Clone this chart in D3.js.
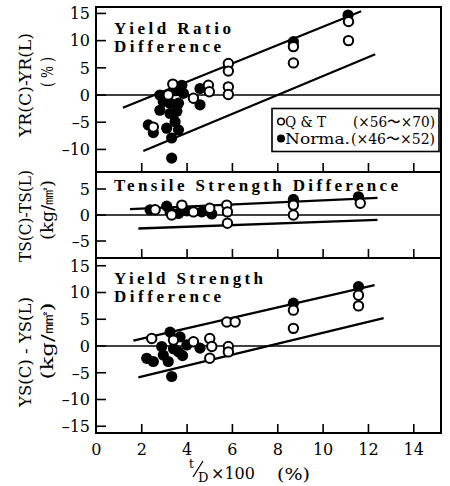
<!DOCTYPE html>
<html>
<head>
<meta charset="utf-8">
<script src="https://cdn.jsdelivr.net/npm/d3@7"></script>
<style>
  body { margin: 0; background: #fff; }
  svg { display: block; }
  text { font-family: "DejaVu Serif", "Liberation Serif", serif; fill: #000; }
</style>
</head>
<body>
<script>
// t/D x 100 (%) ticks
var xTicks = [2, 4, 6, 8, 10, 12, 14];
var xTickLabels = [0, 2, 4, 6, 8, 10, 12, 14];

var yrTicks = [15, 10, 5, 0, -5, -10];
var tsTicks = [5, 0, -5];
var ysTicks = [15, 10, 5, 0, -5, -10, -15];

// yield ratio difference (%)
var yrQT = [[2.51, -5.9], [3.37, 2.0], [3.17, 0.0], [4.28, -0.6], [4.94, 1.8], [4.98, 0.6],
    [5.82, 5.8], [5.82, 4.4], [5.82, 1.5], [5.82, 0.1], [8.69, 8.9], [8.69, 5.9],
    [11.12, 13.5], [11.12, 10.0]];
var yrNorm = [[2.29, -5.5], [2.51, -6.9], [2.8, 0.0], [2.95, -1.2], [2.8, -2.8], [3.25, -1.5],
    [3.25, -3.4], [3.47, -4.9], [3.1, -6.1], [3.62, -6.4], [3.32, -7.9], [3.32, -11.6],
    [3.77, 1.8], [3.84, 0.3], [3.62, -1.5], [3.55, -3.0], [3.5, 0.8], [4.57, 1.2],
    [4.57, -1.8], [8.69, 9.8], [11.1, 14.7]];
var yrBand = [[[1.17, -2.33], [11.68, 15.4]], [[2.07, -10.3], [12.3, 7.5]]];

// tensile strength difference (kg/mm2)
var tsQT = [[2.59, 1.0], [3.32, 0.0], [3.77, 1.9], [4.28, 0.6], [5.0, 1.3], [5.75, 1.9],
    [5.78, 0.6], [5.78, -1.6], [8.69, 1.9], [8.69, 0.0], [11.64, 2.25]];
var tsNorm = [[2.37, 1.0], [3.1, 1.7], [3.25, 0.6], [3.62, 0.3], [3.99, 0.8], [4.65, 0.6],
    [5.09, 0.2], [8.69, 3.0], [11.56, 3.5]];
var tsBand = [[[1.48, 1.13], [12.4, 3.3]], [[1.85, -2.6], [12.4, -0.95]]];

// yield strength difference (kg/mm2)
var ysQT = [[2.44, 1.4], [3.4, 1.1], [4.28, 0.8], [5.0, 1.4], [5.09, -0.1], [5.0, -2.3],
    [5.75, 4.5], [6.12, 4.5], [5.82, -0.1], [5.82, -1.1], [8.69, 6.7], [8.69, 3.3],
    [11.56, 9.5], [11.56, 7.5]];
var ysNorm = [[3.25, 2.6], [3.69, 1.7], [2.88, -0.1], [2.22, -2.3], [2.51, -2.9], [2.95, -1.7],
    [3.17, -2.9], [3.32, -5.7], [3.62, -1.1], [3.99, 0.2], [4.57, -0.4], [3.4, -0.5],
    [3.8, -1.8], [8.69, 8.0], [11.56, 11.1]];
var ysBand = [[[1.63, 1.0], [12.27, 11.4]], [[1.85, -5.85], [12.67, 5.2]]];

var W = 450, H = 486;
var left = 96, right = 441;

var svg = d3.select('body').append('svg')
    .attr('width', W)
    .attr('height', H);

var x = d3.scaleLinear().domain([0, 15.2]).range([left + 0.4, right]);

var panels = [
    {top: 7, bottom: 172, domain: [-14.15, 16.18], ticks: yrTicks, open: yrQT, filled: yrNorm, band: yrBand,
        title: ['Yield Ratio', 'Difference'], titleY: [34, 52], titleW: [117, 107],
        label: 'YR(C)-YR(L)', labelY: 85, labelW: 104, unit: '( % )', unitY: 72, unitW: 30},
    {top: 172, bottom: 258, domain: [-8.27, 8.27], ticks: tsTicks, open: tsQT, filled: tsNorm, band: tsBand,
        title: ['Tensile Strength Difference'], titleY: [191], titleW: [284],
        label: 'TS(C)-TS(L)', labelY: 216, labelW: 92, unit: '(kg/㎟)', unitY: 210, unitW: 60},
    {top: 258, bottom: 433, domain: [-16.26, 16.45], ticks: ysTicks, open: ysQT, filled: ysNorm, band: ysBand,
        title: ['Yield Strength', 'Difference'], titleY: [284, 302], titleW: [149, 107],
        label: 'YS(C) - YS(L)', labelY: 352, labelW: 110, unit: '(kg/㎟)', unitY: 341, unitW: 77}
];

panels.forEach(function(p) {
    var y = d3.scaleLinear().domain(p.domain).range([p.bottom, p.top]);
    var g = svg.append('g');

    // zero line
    g.append('line')
        .attr('x1', left).attr('x2', right)
        .attr('y1', y(0)).attr('y2', y(0))
        .style('stroke', '#000')
        .style('stroke-width', 1.6);

    // y ticks, pointing inward
    p.ticks.forEach(function(t) {
        g.append('line')
            .attr('x1', left).attr('x2', left + 10)
            .attr('y1', y(t)).attr('y2', y(t))
            .style('stroke', '#000')
            .style('stroke-width', 1.6);
        g.append('text')
            .attr('x', 90)
            .attr('y', y(t))
            .attr('dy', '0.36em')
            .attr('text-anchor', 'end')
            .style('font-size', '16px')
            .text(t < 0 ? '\u2013' + Math.abs(t) : t);
    });

    // x ticks along bottom edge
    xTicks.forEach(function(t) {
        g.append('line')
            .attr('x1', x(t)).attr('x2', x(t))
            .attr('y1', p.bottom).attr('y2', p.bottom - 9)
            .style('stroke', '#000')
            .style('stroke-width', 1.6);
    });

    // band lines
    var line = d3.line()
        .x(function(d) { return x(d[0]); })
        .y(function(d) { return y(d[1]); });
    p.band.forEach(function(b) {
        g.append('path')
            .attr('d', line(b))
            .style('fill', 'none')
            .style('stroke', '#000')
            .style('stroke-width', 2.3);
    });

    // points: Norma. first, Q&T on top
    g.selectAll('.norm')
        .data(p.filled)
        .enter().append('circle')
        .attr('cx', function(d) { return x(d[0]); })
        .attr('cy', function(d) { return y(d[1]); })
        .attr('r', 5.6)
        .style('fill', '#000');
    g.selectAll('.qt')
        .data(p.open)
        .enter().append('circle')
        .attr('cx', function(d) { return x(d[0]); })
        .attr('cy', function(d) { return y(d[1]); })
        .attr('r', 4.7)
        .style('fill', '#fff')
        .style('stroke', '#000')
        .style('stroke-width', 2);

    // panel frame
    g.append('rect')
        .attr('x', left).attr('y', p.top)
        .attr('width', right - left).attr('height', p.bottom - p.top)
        .style('fill', 'none')
        .style('stroke', '#000')
        .style('stroke-width', 2);

    // title
    p.title.forEach(function(s, i) {
        g.append('text')
            .attr('x', 114)
            .attr('y', p.titleY[i])
            .attr('textLength', p.titleW[i])
            .attr('lengthAdjust', 'spacing')
            .style('font-family', '"Liberation Serif", serif')
            .style('font-size', '17px')
            .style('font-weight', 'bold')
            .text(s);
    });

    // rotated axis label
    g.append('text')
        .attr('transform', 'translate(31,' + p.labelY + ') rotate(-90)')
        .attr('text-anchor', 'middle')
        .attr('textLength', p.labelW)
        .attr('lengthAdjust', 'spacingAndGlyphs')
        .style('font-size', '17px')
        .text(p.label);
    g.append('text')
        .attr('transform', 'translate(53,' + p.unitY + ') rotate(-90)')
        .attr('text-anchor', 'middle')
        .attr('textLength', p.unitW)
        .attr('lengthAdjust', 'spacingAndGlyphs')
        .style('font-size', '16px')
        .text(p.unit);
});

// x tick labels
xTickLabels.forEach(function(t) {
    svg.append('text')
        .attr('x', x(t))
        .attr('y', 455)
        .attr('text-anchor', 'middle')
        .style('font-size', '16px')
        .text(t);
});

// x axis title  t/D x 100 (%)
svg.append('text').attr('x', 189).attr('y', 468).style('font-size', '12px').text('t');
svg.append('line')
    .attr('x1', 193).attr('y1', 477)
    .attr('x2', 203).attr('y2', 461)
    .style('stroke', '#000').style('stroke-width', 1.3);
svg.append('text').attr('x', 198).attr('y', 482).style('font-size', '13px').text('D');
svg.append('text').attr('x', 211).attr('y', 479).style('font-size', '16px').text('\u00d7100');
svg.append('text').attr('x', 277).attr('y', 480)
    .attr('textLength', 33).attr('lengthAdjust', 'spacingAndGlyphs')
    .style('font-size', '16px').text('(%)');

// legend
var lg = svg.append('g');
lg.append('rect')
    .attr('x', 272).attr('y', 108.5)
    .attr('width', 167).attr('height', 43)
    .style('fill', '#fff')
    .style('stroke', '#000')
    .style('stroke-width', 1.6);
lg.append('circle').attr('cx', 281).attr('cy', 121.5).attr('r', 3.3)
    .style('fill', '#fff').style('stroke', '#000').style('stroke-width', 1.5);
lg.append('circle').attr('cx', 281).attr('cy', 138.5).attr('r', 4)
    .style('fill', '#000');
lg.append('text').attr('x', 285).attr('y', 127).attr('textLength', 41)
    .attr('lengthAdjust', 'spacingAndGlyphs').style('font-size', '15px').text('Q & T');
lg.append('text').attr('x', 353).attr('y', 127).attr('textLength', 82)
    .attr('lengthAdjust', 'spacingAndGlyphs').style('font-size', '15px').text('(\u00d756\u301c\u00d770)');
lg.append('text').attr('x', 285).attr('y', 144).attr('textLength', 65)
    .attr('lengthAdjust', 'spacingAndGlyphs').style('font-size', '15px').text('Norma.');
lg.append('text').attr('x', 351).attr('y', 144).attr('textLength', 84)
    .attr('lengthAdjust', 'spacingAndGlyphs').style('font-size', '15px').text('(\u00d746\u301c\u00d752)');
</script>
</body>
</html>
